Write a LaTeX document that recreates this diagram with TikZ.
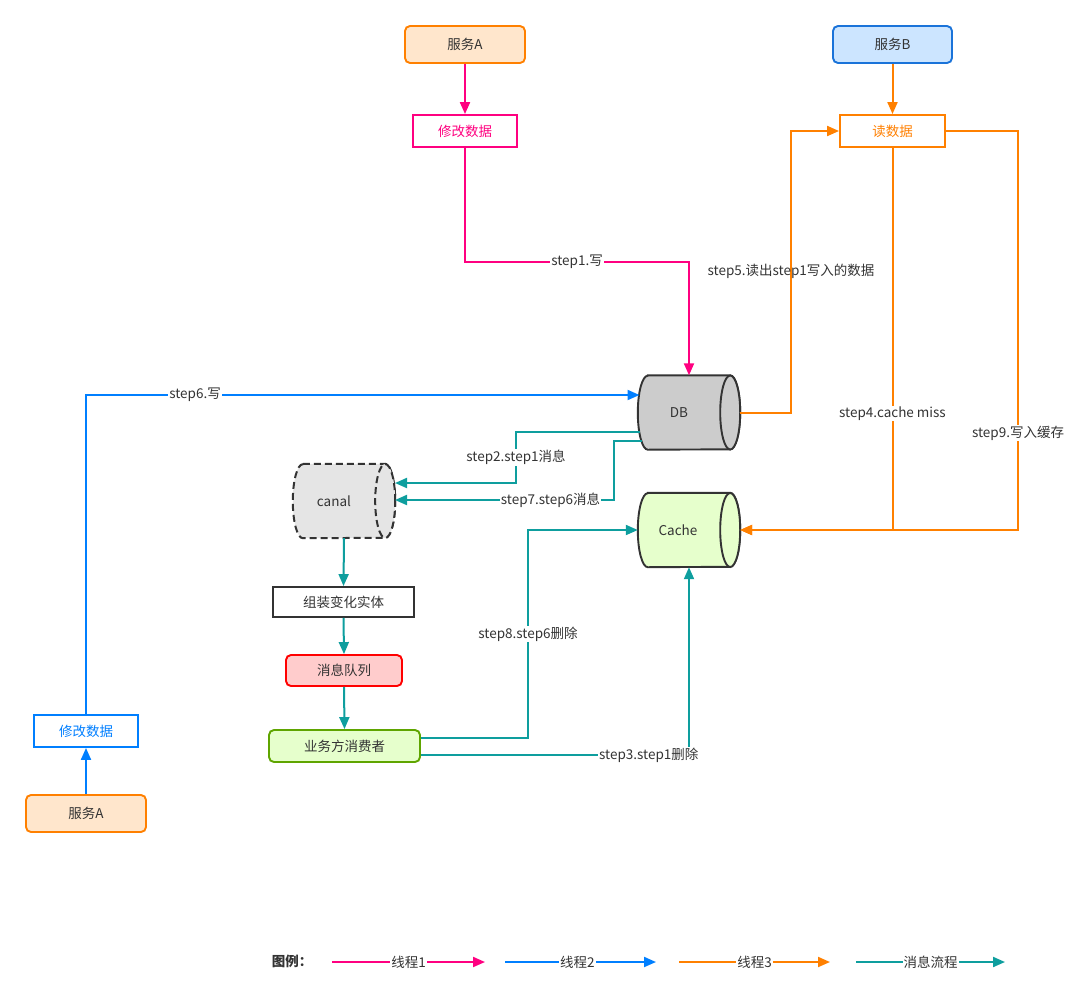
\documentclass[tikz,border=0pt]{standalone}
\usepackage{fontspec}
\setmainfont{Noto Sans CJK SC}
\usetikzlibrary{arrows.meta}
\definecolor{cpink}{HTML}{FF0080}
\definecolor{corange}{HTML}{FF8000}
\definecolor{cblue}{HTML}{007FFF}
\definecolor{cteal}{HTML}{0E9E9E}
\definecolor{ctext}{HTML}{333333}
\definecolor{svcfill}{HTML}{FFE6CC}
\definecolor{bfill}{HTML}{CCE5FF}
\definecolor{bdraw}{HTML}{1A73D9}
\definecolor{mqfill}{HTML}{FFCCCC}
\definecolor{mqdraw}{HTML}{FF0000}
\definecolor{gfill}{HTML}{E6FFCC}
\definecolor{gdraw}{HTML}{5FA500}
\newcommand\drawcyl[2]{%
  \draw[#2] ([xshift=10pt]#1.north west) -- ([xshift=-10pt]#1.north east)
    arc[start angle=90,end angle=-90,x radius=10pt,y radius=37pt]
    -- ([xshift=10pt]#1.south west)
    arc[start angle=270,end angle=90,x radius=10pt,y radius=37pt] -- cycle;
  \draw[#2] ([xshift=-10pt]#1.east) ellipse[x radius=10pt,y radius=37pt];}
\begin{document}
\begin{tikzpicture}[x=1pt,y=-1pt,
  font=\fontsize{13.5}{16}\selectfont,
  box/.style={draw,line width=1.9pt,inner sep=0pt,text=ctext},
  svc/.style={box,rounded corners=5pt,fill=svcfill,draw=corange,minimum width=120pt,minimum height=37pt},
  svcb/.style={box,rounded corners=5pt,fill=bfill,draw=bdraw,minimum width=119pt,minimum height=37pt},
  op/.style={box,fill=white,minimum width=104pt,minimum height=32pt},
  cylnode/.style={inner sep=0pt,minimum width=102pt,minimum height=74pt,text=ctext},
  lbl/.style={fill=white,inner sep=1pt,text=ctext},
  lbln/.style={inner sep=1pt,text=ctext},
  tip/.style={-{Triangle[length=12pt,width=10pt]}},
  pinkl/.style={draw=cpink,line width=2pt},
  orl/.style={draw=corange,line width=2pt},
  bll/.style={draw=cblue,line width=2pt},
  tel/.style={draw=cteal,line width=2pt},
]
\useasboundingbox (0,0) rectangle (1080,1002);

% nodes
\node[svc] (svcA) at (465,44.5) {服务A};
\node[op,draw=cpink,text=cpink] (modA) at (465,131) {修改数据};
\node[svcb] (svcB) at (892.5,44.5) {服务B};
\node[op,draw=corange,text=corange,minimum width=105pt] (rd) at (892.5,131) {读数据};

\node[cylnode] (db) at (689,412.5) {};
\drawcyl{db}{fill=black!20,draw=ctext,line width=1.9pt}
\node[text=ctext] at (db.center) {\hspace*{-20pt}DB};

\node[cylnode] (canal) at (344,501) {};
\drawcyl{canal}{fill=black!10,draw=ctext,line width=2pt,dash pattern=on 7pt off 4pt}
\node[text=ctext] at (canal.center) {\hspace*{-20pt}canal};

\node[cylnode] (cache) at (689,530) {};
\drawcyl{cache}{fill=gfill,draw=ctext,line width=1.9pt}
\node[text=ctext] at (cache.center) {\hspace*{-22pt}Cache};

\node[box,draw=ctext,fill=white,minimum width=141pt,minimum height=30pt] (asm) at (343.5,602) {组装变化实体};
\node[box,rounded corners=5pt,fill=mqfill,draw=mqdraw,minimum width=116pt,minimum height=31pt] (mq) at (344,670.5) {消息队列};
\node[box,rounded corners=5pt,fill=gfill,draw=gdraw,minimum width=151pt,minimum height=32pt] (cons) at (344.5,746) {业务方消费者};

\node[op,draw=cblue,text=cblue] (modB) at (86,731) {修改数据};
\node[svc] (svcA2) at (86,813.5) {服务A};

% thread 1 (pink)
\draw[pinkl,tip] (svcA.south) -- (modA.north);
\draw[pinkl,tip] (modA.south) -- (modA.south |- 0,262) -- node[lbl]{step1.写} (db.north |- 0,262) -- (db.north);

% thread 3 (orange)
\draw[orl,tip] (svcB.south) -- (rd.north);
\draw[orl,tip] (db.east) -- (db.east -| 791,0) -- node[lbln]{step5.读出step1写入的数据} (rd.west -| 791,0) -- (rd.west);
\draw[orl,tip] (rd.south) -- node[lbl,pos=0.695]{step4.cache miss} (cache.east -| rd.south) -- (cache.east);
\draw[orl,tip] (rd.east) -- (rd.east -| 1018,0) -- node[lbl,pos=0.757]{step9.写入缓存} (cache.east -| 1018,0) -- (cache.east);

% thread 2 (blue)
\coordinate (dbin6) at (639.5,395);
\draw[bll,tip] (svcA2.north) -- (modB.south);
\draw[bll,tip] (modB.north) -- (modB.north |- dbin6) -- node[lbl,pos=0.197]{step6.写} (dbin6);

% message flow (teal)
\coordinate (dbo2) at (640,432);
\coordinate (cin2) at (395,483);
\coordinate (dbo7) at (642,441);
\coordinate (cin7) at (395,500);
\draw[tel,tip] (dbo2) -- (dbo2 -| 516,0) -- node[lbl]{step2.step1消息} (cin2 -| 516,0) -- (cin2);
\draw[tel,tip] (dbo7) -- (dbo7 -| 614,0) -- (cin7 -| 614,0) -- node[lbl,pos=0.29]{step7.step6消息} (cin7);
\draw[tel,tip] (canal.south) -- (asm.north);
\draw[tel,tip] (asm.south) -- (mq.north);
\draw[tel,tip] (mq.south) -- (cons.north);
\coordinate (co8) at ([yshift=8pt]cons.east);
\coordinate (co3) at ([yshift=-9pt]cons.east);
\draw[tel,tip] (co8) -- (co8 -| 528,0) -- node[lbl]{step8.step6删除} (cache.west -| 528,0) -- (cache.west);
\draw[tel,tip] (co3) -- node[lbl,pos=0.85]{step3.step1删除} (co3 -| cache.south) -- (cache.south);

% legend
\node[text=ctext,font=\fontsize{13.5}{16}\selectfont\bfseries] (lg) at (292,961) {图例：};
\coordinate (l1a) at (332,962); \coordinate (l1b) at (485,962);
\coordinate (l2a) at (505,962); \coordinate (l2b) at (656,962);
\coordinate (l3a) at (679,962); \coordinate (l3b) at (830,962);
\coordinate (l4a) at (856,962); \coordinate (l4b) at (1005,962);
\draw[pinkl,tip] (l1a) -- node[lbl,pos=0.5]{线程1} (l1b);
\draw[bll,tip] (l2a) -- node[lbl,pos=0.48]{线程2} (l2b);
\draw[orl,tip] (l3a) -- node[lbl,pos=0.5]{线程3} (l3b);
\draw[tel,tip] (l4a) -- node[lbl,pos=0.5]{消息流程} (l4b);
\end{tikzpicture}
\end{document}
